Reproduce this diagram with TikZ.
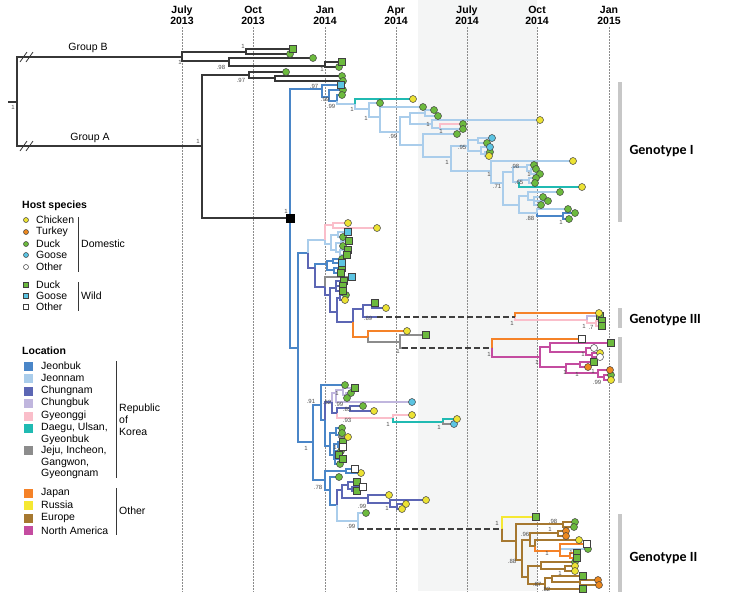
\documentclass[tikz,border=0pt]{standalone}
\usepackage{fontspec}
\setmainfont{Liberation Sans}
\newfontfamily\gtfont{Carlito}
\usetikzlibrary{positioning}

% location colours
\definecolor{treeblk}{RGB}{55,55,55}
\definecolor{cjb}{RGB}{74,134,200}
\definecolor{cjn}{RGB}{170,205,235}
\definecolor{ccn}{RGB}{92,102,180}
\definecolor{ccb}{RGB}{192,182,222}
\definecolor{cgy}{RGB}{250,190,202}
\definecolor{cdg}{RGB}{32,186,178}
\definecolor{cjj}{RGB}{140,140,140}
\definecolor{cjp}{RGB}{245,130,40}
\definecolor{cru}{RGB}{245,232,50}
\definecolor{ceu}{RGB}{166,120,48}
\definecolor{cna}{RGB}{196,76,160}
% host colours
\definecolor{hchk}{RGB}{236,226,52}
\definecolor{htur}{RGB}{236,136,30}
\definecolor{hdck}{RGB}{108,186,62}
\definecolor{hgoo}{RGB}{92,196,226}
\definecolor{bandgray}{RGB}{244,245,245}

\begin{document}
\begin{tikzpicture}[x=1pt, y=-1pt,
    font=\fontsize{10.5}{12}\selectfont,
    br/.style={line width=1.1pt},
    blk/.style={br, draw=treeblk},
    jb/.style={br, draw=cjb},
    jn/.style={br, draw=cjn},
    cn/.style={br, draw=ccn},
    cb/.style={br, draw=ccb},
    gy/.style={br, draw=cgy},
    dg/.style={br, draw=cdg},
    jj/.style={br, draw=cjj},
    jp/.style={br, draw=cjp},
    ru/.style={br, draw=cru},
    eu/.style={br, draw=ceu},
    na/.style={br, draw=cna},
    tip/.style={draw=black!75, line width=0.5pt, inner sep=0pt},
    hcirc/.style={tip, circle, minimum size=7pt},
    hsq/.style={tip, rectangle, minimum size=7pt},
    chk/.style={hcirc, fill=hchk},
    tkc/.style={hcirc, fill=htur},
    dkc/.style={hcirc, fill=hdck},
    gsc/.style={hcirc, fill=hgoo},
    otc/.style={hcirc, fill=white},
    dks/.style={hsq, fill=hdck},
    gss/.style={hsq, fill=hgoo},
    ots/.style={hsq, fill=white},
    lgsmall/.style={minimum size=5pt},
    lab/.style={font=\fontsize{6}{6}\selectfont, text=black!70, inner sep=0pt},
    timeline/.style={draw=black!45, line width=0.7pt, dash pattern=on 1.5pt off 1.5pt},
    gbar/.style={draw=black!22, line width=4pt},
    dlink/.style={draw=black!75, line width=1.1pt, dash pattern=on 6pt off 3pt},
    lgtext/.style={anchor=west, inner sep=1pt},
    lgbox/.style={minimum size=9pt, inner sep=0pt},
    gtlabel/.style={anchor=west, font=\gtfont\bfseries\fontsize{14}{15}\selectfont}
]
\useasboundingbox (0,0) rectangle (737,598);

% time axis
\fill[bandgray] (418,0) rectangle (537,591);
\foreach \x/\m/\yr in {182/July/2013, 253/Oct/2013, 325/Jan/2014, 396/Apr/2014,
                       467/July/2014, 537/Oct/2014, 609/Jan/2015} {
  \node[font=\bfseries\fontsize{10.5}{11}\selectfont, align=center] (t\m\yr) at (\x,15.5) {\m\\\yr};
  \draw[timeline] (\x,27) -- (\x,592);
}

% genotype bars
\draw[gbar] (620,82) -- (620,222);
\draw[gbar] (620,308) -- (620,328);
\draw[gbar] (620,337) -- (620,383);
\draw[gbar] (620,514) -- (620,592);
\node[gtlabel] (gI) at (626,151) {Genotype I};
\node[gtlabel] (gIII) at (626,320) {Genotype III};
\node[gtlabel] (gII) at (626,558) {Genotype II};

% outgroups
\draw[blk] (8,102) -- (17,102);
\foreach \px/\py/\cx/\cy in {17/102/182/57, 17/102/202/146, 182/57/246/52, 182/57/229/61,
    246/52/293/49, 246/52/290/54, 229/61/313/58, 229/61/325/66, 325/66/342/62, 325/66/339/67,
    202/146/249/75, 202/146/290/218, 249/75/286/72, 249/75/275/78, 275/78/342/76, 275/78/343/81}
  \draw[blk] (\px,\py) |- (\cx,\cy);
\foreach \y in {57,146} {
  \draw[blk, line width=0.8pt] (20,\y+5) -- (27,\y-5);
  \draw[blk, line width=0.8pt] (26,\y+5) -- (33,\y-5);
}
\node (grpB) at (88,48) {Group B};
\node (grpA) at (90,138) {Group A};

% Korean clade, by location
\foreach \px/\py/\cx/\cy in {290/218/322/89, 290/218/298/348, 322/89/341/85, 322/89/329/97,
    329/97/343/90, 329/97/337/101, 337/101/342/95, 298/348/308/253, 298/348/313/442,
    537/213/563/216, 563/216/575/213, 563/216/569/219, 315/268/327/264,
    327/264/333/261, 327/264/334/270, 333/261/342/259, 333/261/342/263, 334/270/342/268, 334/270/341/273,
    313/442/321/405, 313/442/325/480, 321/405/345/385, 321/405/325/420, 325/420/330/446,
    330/446/336/433, 330/446/334/455, 336/433/342/428, 336/433/339/435, 339/435/342/433,
    334/455/338/444, 334/455/335/459, 338/444/343/442, 338/444/343/447,
    335/459/341/451, 335/459/339/455, 335/459/343/459, 335/459/340/464,
    325/480/346/471, 325/480/330/490, 346/471/355/469, 346/471/361/473, 330/490/339/477, 330/490/337/505}
  \draw[jb] (\px,\py) |- (\cx,\cy);
\foreach \px/\py/\cx/\cy in {337/101/355/104, 355/104/369/109, 369/109/380/103, 369/109/380/117,
    380/117/423/107, 380/117/400/132, 400/132/410/117, 400/132/423/145, 410/117/425/113, 410/117/432/124,
    425/113/434/110, 425/113/438/116, 432/124/540/120, 432/124/440/128, 440/128/463/129,
    423/145/457/134, 423/145/451/157, 451/157/468/146, 451/157/491/171, 468/146/478/140, 468/146/481/151,
    478/140/492/138, 478/140/487/143, 481/151/490/147, 481/151/485/154, 485/154/490/152, 485/154/489/156,
    491/171/573/161, 491/171/503/183, 503/183/513/172, 503/183/519/205, 513/172/527/167, 513/172/519/182,
    527/167/534/165, 527/167/531/171, 531/171/536/169, 531/171/540/174, 519/182/529/180,
    529/180/536/178, 529/180/535/183, 519/205/528/196, 519/205/537/213, 528/196/560/192, 528/196/534/200,
    534/200/543/197, 534/200/548/201, 534/200/541/205, 537/213/568/209,
    308/253/325/240, 325/240/331/244, 331/244/338/235, 331/244/336/250, 338/235/348/232, 338/235/343/237,
    336/250/341/243, 336/250/340/252, 341/243/349/241, 341/243/343/246, 340/252/348/250, 340/252/347/255,
    337/505/358/521, 358/521/366/513, 358/521/358/529, 560/551/588/549}
  \draw[jn] (\px,\py) |- (\cx,\cy);
\foreach \px/\py/\cx/\cy in {440/128/463/124, 325/240/333/225, 333/225/348/223, 333/225/377/228,
    515/317/587/320, 587/320/596/323, 596/323/602/321, 596/323/602/326, 337/413/393/418, 393/418/412/415}
  \draw[gy] (\px,\py) |- (\cx,\cy);
\foreach \px/\py/\cx/\cy in {355/104/413/99, 519/182/582/187, 393/418/443/422, 443/422/457/419}
  \draw[dg] (\px,\py) |- (\cx,\cy);
\foreach \px/\py/\cx/\cy in {325/287/352/277, 368/337/400/342, 400/342/426/335, 400/342/402/348,
    443/422/454/424, 339/435/348/437}
  \draw[jj] (\px,\py) |- (\cx,\cy);
\foreach \px/\py/\cx/\cy in {308/253/315/268, 315/268/325/287, 325/287/330/295, 330/295/336/288,
    330/295/337/312, 336/288/344/281, 336/288/343/286, 336/288/343/291, 337/312/340/298, 337/312/353/322,
    340/298/346/295, 340/298/345/300, 353/322/363/309, 363/309/372/305, 363/309/377/317,
    372/305/375/303, 372/305/386/308, 325/420/332/402, 332/402/337/413, 337/413/350/408,
    350/408/363/406, 350/408/374/411, 337/505/342/490, 342/490/348/485, 342/490/368/498,
    348/485/357/482, 348/485/352/489, 352/489/363/487, 352/489/357/491, 368/498/389/495, 368/498/390/503,
    390/503/426/500, 390/503/397/507, 397/507/406/504, 397/507/402/509}
  \draw[cn] (\px,\py) |- (\cx,\cy);
\foreach \px/\py/\cx/\cy in {332/402/336/393, 336/393/343/390, 336/393/412/402, 343/390/355/388,
    343/390/346/395, 346/395/351/393, 346/395/347/398, 587/320/600/316}
  \draw[cb] (\px,\py) |- (\cx,\cy);
\foreach \px/\py/\cx/\cy in {353/322/368/337, 368/337/407/331, 515/317/599/313, 492/348/582/339,
    535/546/560/551, 560/551/587/544, 560/551/570/556, 570/556/577/553, 570/556/577/558}
  \draw[jp] (\px,\py) |- (\cx,\cy);
\draw[ru] (502,529) |- (536,517);
\foreach \px/\py/\cx/\cy in {502/529/516/541, 516/541/563/524, 516/541/522/560, 563/524/575/522,
    563/524/574/527, 522/560/530/540, 522/560/528/577, 530/540/558/533, 530/540/535/546,
    558/533/566/531, 558/533/566/536, 535/546/579/540, 528/577/541/566, 528/577/545/584,
    541/566/575/562, 541/566/565/569, 565/569/575/566, 565/569/575/571, 545/584/552/578,
    545/584/583/589, 552/578/583/576, 552/578/580/582, 580/582/598/580, 580/582/599/585}
  \draw[eu] (\px,\py) |- (\cx,\cy);
\foreach \px/\py/\cx/\cy in {492/348/540/357, 540/357/550/347, 540/357/566/367, 550/347/611/343,
    550/347/586/352, 586/352/594/348, 586/352/592/355, 592/355/600/353, 592/355/600/357,
    566/367/580/364, 566/367/598/373, 580/364/594/362, 580/364/588/367, 598/373/610/370,
    598/373/604/377, 604/377/611/375, 604/377/611/380}
  \draw[na] (\px,\py) |- (\cx,\cy);

% long dashed links to foreign clades
\coordinate (k3) at (377,317);  \coordinate (gt3) at (515,317);
\coordinate (kna) at (402,348); \coordinate (gna) at (492,348);
\coordinate (k2) at (358,529);  \coordinate (gt2) at (502,529);
\draw[dlink] (k3) -- (gt3);
\draw[dlink] (kna) -- (gna);
\draw[dlink] (k2) -- (gt2);

% common ancestor
\node[draw=black, fill=black, minimum size=8pt, inner sep=0pt] (mrca) at (290,218) {};

% tips
\foreach \x/\y in {290/54, 313/58, 339/67, 286/72, 342/76, 343/81, 343/90, 342/95, 380/103, 423/107,
    434/110, 438/116, 463/124, 463/129, 457/134, 487/143, 490/152, 534/165, 536/169, 540/174, 536/178,
    535/183, 560/192, 543/197, 548/201, 541/205, 568/209, 575/213, 569/219, 343/237, 343/246, 342/259,
    346/295, 611/375, 345/385, 351/393, 347/398, 363/406, 342/428, 342/433, 341/451, 340/464, 339/477,
    366/513, 575/522, 574/527, 588/549, 575/562}
  \node[dkc] (dc-\x-\y) at (\x,\y) {};
\foreach \x/\y in {293/49, 342/62, 349/241, 348/250, 347/255, 342/268, 341/273, 344/281, 343/286,
    343/291, 375/303, 426/335, 600/316, 602/321, 602/326, 611/343, 594/362, 355/388, 343/442, 339/455,
    343/459, 357/482, 357/491, 536/517, 577/553, 577/558, 583/576, 583/589}
  \node[dks] (ds-\x-\y) at (\x,\y) {};
\foreach \x/\y in {341/85, 348/232, 342/263, 352/277}
  \node[gss] (gs-\x-\y) at (\x,\y) {};
\foreach \x/\y in {492/138, 490/147, 412/402, 454/424}
  \node[gsc] (gc-\x-\y) at (\x,\y) {};
\foreach \x/\y in {413/99, 540/120, 489/156, 573/161, 582/187, 348/223, 377/228, 345/300, 386/308,
    407/331, 599/313, 600/353, 611/380, 374/411, 412/415, 457/419, 348/437, 361/473, 389/495, 426/500,
    406/504, 402/509, 579/540, 575/566, 575/571}
  \node[chk] (ch-\x-\y) at (\x,\y) {};
\foreach \x/\y in {588/367, 610/370, 566/531, 566/536, 598/580, 599/585}
  \node[tkc] (tk-\x-\y) at (\x,\y) {};
\foreach \x/\y in {594/348, 600/357}
  \node[otc] (oc-\x-\y) at (\x,\y) {};
\foreach \x/\y in {582/339, 343/447, 363/487, 355/469, 587/544}
  \node[ots] (os-\x-\y) at (\x,\y) {};

% posterior supports
\foreach \x/\y/\t in {13/107/1, 243/46/1, 180/62/1, 221/67/.98, 322/69/1, 241/80/.97, 198/141/1,
    286/211/1, 314/86/.97, 325/99/.99, 331/106/.99, 352/109/1, 366/118/1, 393/136/.99, 428/124/1,
    441/131/1, 462/147/.95, 447/162/1, 489/174/1, 497/186/.71, 515/166/.98, 519/182/.65, 529/174/1,
    530/218/.88, 561/222/1,
    368/318/.89, 398/351/1, 512/323/1, 584/326/1, 591/327/.7, 489/354/1, 537/362/1, 583/354/1,
    565/372/1, 577/374/1, 593/371/1, 597/382/.99,
    306/448/1, 311/401/.91, 327/402/.62, 337/393/1, 339/404/.99, 347/409/.85, 347/420/.93,
    388/424/1, 439/427/1, 335/447/1, 318/487/.78, 362/506/.99, 387/508/1, 351/526/.99,
    497/523/1, 553/521/.98, 550/529/1, 525/534/.96, 547/553/1, 571/552/1, 512/561/.88,
    560/573/1, 537/584/.87, 546/589/.82}
  \node[lab] (pp-\x-\y) at (\x,\y) {\t};

% legend: host species
\node[lgtext, font=\bfseries\fontsize{10.5}{12}\selectfont] (hosthd) at (21,206) {Host species};
\foreach \y/\t/\s in {220/Chicken/chk, 232/Turkey/tkc, 244/Duck/dkc, 255/Goose/gsc, 267/Other/otc} {
  \node[\s, lgsmall] (lh\t) at (26,\y) {};
  \node[lgtext] (lt\t) at (35,\y) {\t};
}
\foreach \y/\t/\s in {285/Duck/dks, 296/Goose/gss, 307/Other/ots} {
  \node[\s, lgsmall] (lw\t) at (26,\y) {};
  \node[lgtext] (lu\t) at (35,\y) {\t};
}
\draw[treeblk, line width=0.9pt] (78,217) -- (78,272);
\node[lgtext] (dom) at (80,244) {Domestic};
\draw[treeblk, line width=0.9pt] (78,282) -- (78,311);
\node[lgtext] (wild) at (80,296) {Wild};

% legend: location
\node[lgtext, font=\bfseries\fontsize{10.5}{12}\selectfont] (lochd) at (21,351) {Location};
\foreach \y/\c in {366/cjb, 378/cjn, 391/ccn, 403/ccb, 416/cgy, 428/cdg, 450/cjj, 493/cjp, 505/cru, 518/ceu, 530/cna}
  \node[lgbox, fill=\c] (lb\c) at (28,\y) {};
\foreach \y/\t in {366/Jeonbuk, 378/Jeonnam, 391/Chungnam, 403/Chungbuk, 416/Gyeonggi,
    428/{Daegu, Ulsan,}, 440/Gyeonbuk, 451/{Jeju, Incheon,}, 463/{Gangwon,}, 474/Gyeongnam,
    493/Japan, 505/Russia, 518/Europe, 531/North America}
  \node[lgtext] (ll\y) at (40,\y) {\t};
\draw[treeblk, line width=0.9pt] (116,361) -- (116,478);
\node[lgtext, align=left] (rok) at (118,420) {Republic\\of\\Korea};
\draw[treeblk, line width=0.9pt] (116,488) -- (116,535);
\node[lgtext] (oth) at (118,511) {Other};
\end{tikzpicture}
\end{document}
